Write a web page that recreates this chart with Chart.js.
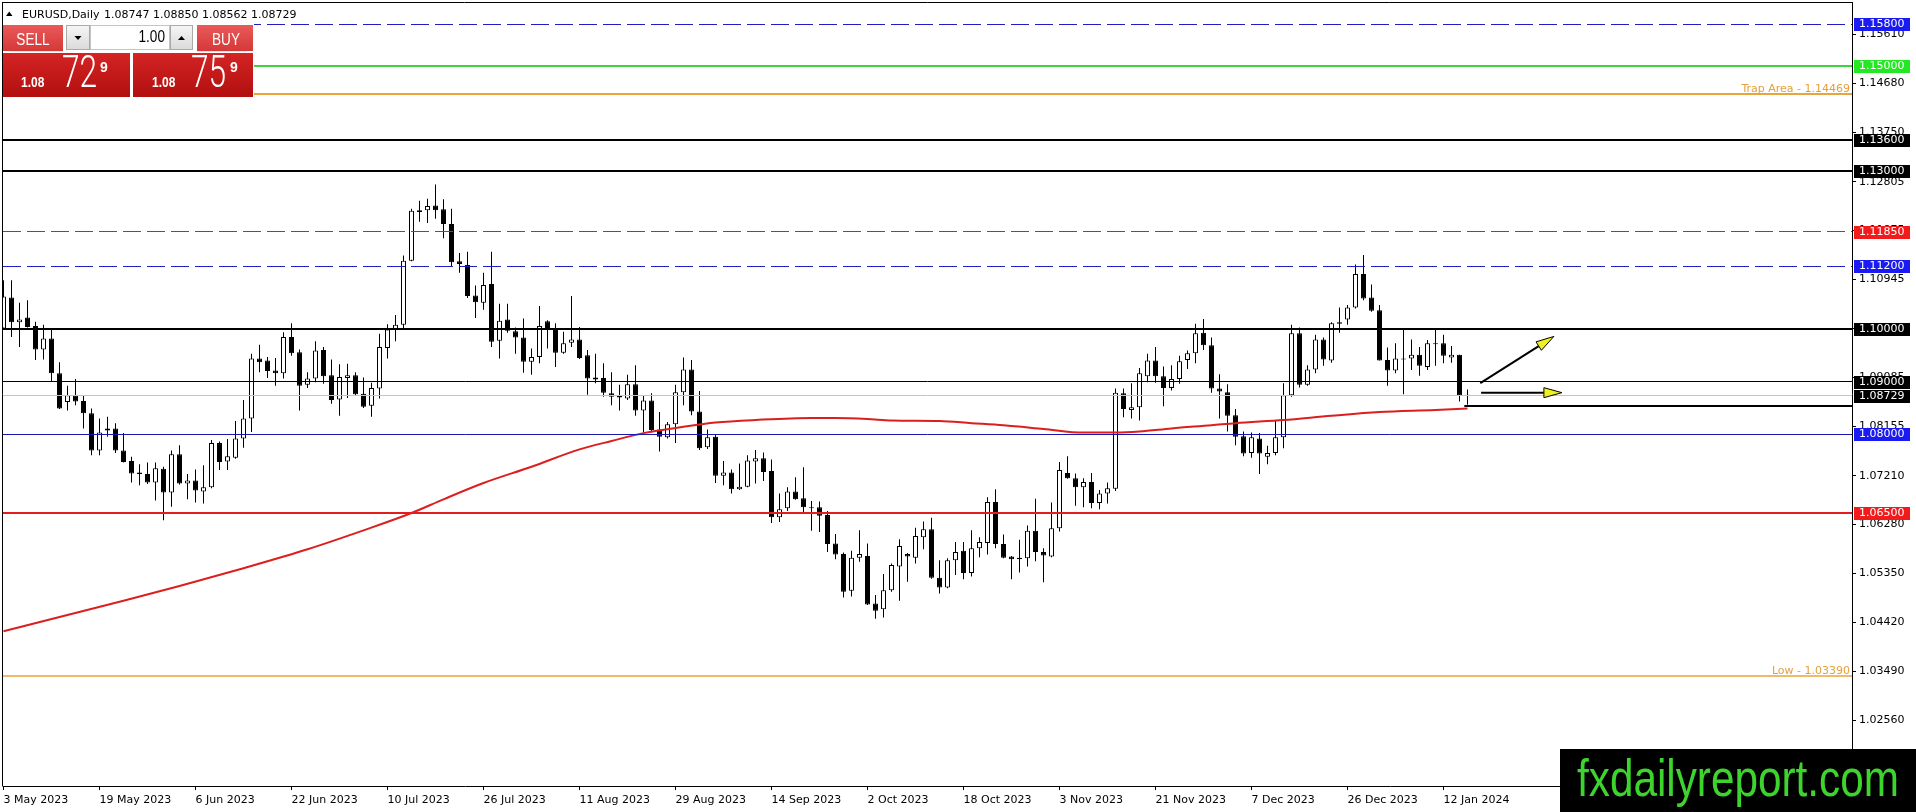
<!DOCTYPE html>
<html>
<head>
<meta charset="utf-8">
<script src="https://cdn.jsdelivr.net/npm/chart.js@4.4.1/dist/chart.umd.min.js"></script>
<style>
html,body{margin:0;padding:0;background:#fff;overflow:hidden;}
#wrap{position:relative;width:1916px;height:812px;}
canvas{position:absolute;left:0;top:0;}
</style>
</head>
<body>
<div id="wrap"><canvas id="c" width="1916" height="812"></canvas></div>
<script>
// ---------- DATA (EURUSD Daily, 3 May 2023 .. 17 Jan 2024) ----------
const dateLabels = ['3 May 2023','19 May 2023','6 Jun 2023','22 Jun 2023','10 Jul 2023','26 Jul 2023','11 Aug 2023','29 Aug 2023','14 Sep 2023','2 Oct 2023','18 Oct 2023','3 Nov 2023','21 Nov 2023','7 Dec 2023','26 Dec 2023','12 Jan 2024'];
const dateIndex = [0,12,24,36,48,60,72,84,96,108,120,132,144,156,168,180];

const opens = [
1.1001,1.1060,1.1013,1.1022,1.1006,1.0961,1.0982,1.0916,1.0861,1.0874,
1.0863,1.0840,1.0769,1.0807,1.0811,1.0769,1.0749,1.0727,1.0724,1.0708,
1.0734,1.0689,1.0762,1.0706,1.0712,1.0691,1.0699,1.0783,1.0748,1.0755,
1.0792,1.0830,1.0944,1.0940,1.0921,1.0916,1.0985,1.0956,1.0894,1.0906,
1.0960,1.0912,1.0866,1.0907,1.0912,1.0877,1.0854,1.0887,1.0964,1.1000,
1.1008,1.1130,1.1226,1.1226,1.1235,1.1228,1.1200,1.1129,1.1122,1.1064,
1.1050,1.1086,1.0978,1.1018,1.0996,1.0984,1.0938,1.0947,1.1015,1.1000,
1.0955,1.0974,1.0980,1.0950,1.0904,1.0907,1.0878,1.0873,1.0868,1.0895,
1.0845,1.0864,1.0809,1.0794,1.0819,1.0880,1.0923,1.0843,1.0775,1.0795,
1.0721,1.0727,1.0695,1.0700,1.0748,1.0754,1.0730,1.0642,1.0659,1.0691,
1.0678,1.0661,1.0661,1.0646,1.0592,1.0572,1.0502,1.0565,1.0568,1.0478,
1.0467,1.0503,1.0548,1.0572,1.0565,1.0604,1.0619,1.0527,1.0508,1.0560,
1.0578,1.0536,1.0583,1.0593,1.0671,1.0591,1.0567,1.0565,1.0564,1.0616,
1.0576,1.0567,1.0621,1.0726,1.0716,1.0699,1.0709,1.0669,1.0687,1.0696,
1.0878,1.0846,1.0851,1.0910,1.0940,1.0910,1.0888,1.0905,1.0941,1.0954,
1.0993,1.0969,1.0887,1.0880,1.0836,1.0796,1.0764,1.0792,1.0757,1.0764,
1.0794,1.0874,1.0992,1.0894,1.0923,1.0980,1.0940,1.1013,1.1018,1.1041,
1.1105,1.1060,1.1036,1.0941,1.0921,1.0944,1.0944,1.0951,1.0928,1.0973,
1.0973,1.0946,1.0951,1.08747];
const highs = [
1.1093,1.1093,1.1050,1.1055,1.1014,1.1008,1.0998,1.0937,1.0892,1.0905,
1.0873,1.0849,1.0830,1.0833,1.0821,1.0802,1.0757,1.0743,1.0746,1.0746,
1.0738,1.0769,1.0779,1.0724,1.0733,1.0741,1.0789,1.0786,1.0791,1.0825,
1.0865,1.0953,1.0970,1.0947,1.0945,1.0994,1.1011,1.0961,1.0918,1.0977,
1.0966,1.0942,1.0933,1.0934,1.0918,1.0908,1.0898,1.0991,1.1009,1.1027,
1.1140,1.1229,1.1244,1.1248,1.1275,1.1247,1.1229,1.1145,1.1147,1.1083,
1.1107,1.1147,1.1048,1.1048,1.1003,1.1020,1.0963,1.1044,1.1017,1.1011,
1.0995,1.1063,1.1004,1.0960,1.0953,1.0935,1.0918,1.0894,1.0913,1.0931,
1.0873,1.0878,1.0842,1.0823,1.0894,1.0946,1.0941,1.0882,1.0809,1.0800,
1.0749,1.0733,1.0744,1.0760,1.0770,1.0765,1.0752,1.0687,1.0699,1.0718,
1.0737,1.0673,1.0672,1.0654,1.0610,1.0575,1.0578,1.0617,1.0592,1.0494,
1.0534,1.0554,1.0600,1.0574,1.0622,1.0634,1.0641,1.0560,1.0564,1.0595,
1.0595,1.0617,1.0604,1.0680,1.0695,1.0609,1.0568,1.0599,1.0626,1.0677,
1.0583,1.0670,1.0747,1.0758,1.0725,1.0716,1.0726,1.0694,1.0708,1.0887,
1.0887,1.0897,1.0926,1.0953,1.0966,1.0929,1.0931,1.0949,1.0959,1.1010,
1.1019,1.0984,1.0914,1.0895,1.0848,1.0805,1.0803,1.0802,1.0778,1.0827,
1.0897,1.1008,1.1003,1.0931,1.0989,1.0984,1.1013,1.1041,1.1046,1.1123,
1.1141,1.1085,1.1046,1.0965,1.0973,1.0999,1.0980,1.0966,1.0979,1.0999,
1.0989,1.0968,1.0951,1.08850];
const lows = [
1.0998,1.0985,1.0966,1.1003,1.0941,1.0942,1.0901,1.0848,1.0845,1.0855,
1.0811,1.0760,1.0760,1.0795,1.0764,1.0746,1.0708,1.0703,1.0705,1.0674,
1.0636,1.0662,1.0704,1.0676,1.0670,1.0668,1.0697,1.0732,1.0732,1.0753,
1.0774,1.0804,1.0918,1.0907,1.0892,1.0906,1.0949,1.0845,1.0888,1.0899,
1.0896,1.0858,1.0835,1.0869,1.0874,1.0850,1.0833,1.0868,1.0944,1.0977,
1.1002,1.1129,1.1204,1.1202,1.1210,1.1173,1.1119,1.1107,1.1059,1.1021,
1.1037,1.0966,1.0944,1.0993,1.0953,1.0917,1.0913,1.0935,1.0963,1.0928,
1.0953,1.0966,1.0943,1.0875,1.0897,1.0871,1.0855,1.0845,1.0865,1.0835,
1.0803,1.0803,1.0767,1.0792,1.0783,1.0855,1.0836,1.0770,1.0772,1.0707,
1.0703,1.0687,1.0694,1.0699,1.0706,1.0711,1.0631,1.0633,1.0654,1.0675,
1.0652,1.0616,1.0614,1.0576,1.0562,1.0489,1.0491,1.0557,1.0475,1.0449,
1.0451,1.0500,1.0483,1.0519,1.0554,1.0581,1.0525,1.0497,1.0507,1.0532,
1.0524,1.0529,1.0566,1.0571,1.0583,1.0564,1.0524,1.0537,1.0548,1.0558,
1.0518,1.0566,1.0615,1.0715,1.0664,1.0661,1.0659,1.0657,1.0668,1.0692,
1.0832,1.0830,1.0826,1.0899,1.0898,1.0853,1.0883,1.0896,1.0924,1.0935,
1.0960,1.0879,1.0830,1.0805,1.0779,1.0758,1.0755,1.0724,1.0743,1.0760,
1.0773,1.0871,1.0889,1.0892,1.0916,1.0930,1.0936,1.0993,1.1008,1.1039,
1.1055,1.1033,1.0940,1.0892,1.0916,1.0876,1.0922,1.0911,1.0922,1.0930,
1.0935,1.0936,1.0862,1.08562];
const closes = [
1.1062,1.1013,1.1018,1.1004,1.0961,1.0982,1.0916,1.0849,1.0874,1.0862,
1.0840,1.0769,1.0803,1.0811,1.0769,1.0747,1.0725,1.0724,1.0708,1.0735,
1.0689,1.0762,1.0706,1.0712,1.0693,1.0699,1.0783,1.0747,1.0758,1.0792,
1.0830,1.0944,1.0937,1.0920,1.0916,1.0985,1.0954,1.0892,1.0906,1.0959,
1.0910,1.0865,1.0909,1.0912,1.0876,1.0852,1.0888,1.0966,1.0999,1.1008,
1.1130,1.1225,1.1223,1.1234,1.1226,1.1200,1.1127,1.1124,1.1063,1.1051,
1.1084,1.0976,1.1016,1.0997,1.0984,1.0938,1.0947,1.1006,1.1000,1.0955,
1.0973,1.0980,1.0945,1.0906,1.0908,1.0879,1.0871,1.0870,1.0895,1.0845,
1.0864,1.0808,1.0795,1.0819,1.0880,1.0923,1.0843,1.0773,1.0794,1.0721,
1.0727,1.0695,1.0700,1.0750,1.0754,1.0728,1.0642,1.0657,1.0691,1.0676,
1.0661,1.0659,1.0645,1.0591,1.0571,1.0500,1.0565,1.0572,1.0476,1.0464,
1.0503,1.0551,1.0587,1.0567,1.0606,1.0619,1.0527,1.0508,1.0560,1.0576,
1.0536,1.0583,1.0595,1.0671,1.0591,1.0565,1.0562,1.0562,1.0616,1.0576,
1.0569,1.0621,1.0732,1.0716,1.0699,1.0709,1.0669,1.0687,1.0697,1.0879,
1.0848,1.0851,1.0916,1.0940,1.0910,1.0888,1.0905,1.0939,1.0954,1.0992,
1.0969,1.0887,1.0881,1.0835,1.0795,1.0763,1.0794,1.0763,1.0764,1.0794,
1.0874,1.0992,1.0894,1.0923,1.0980,1.0942,1.1011,1.1010,1.1041,1.1105,
1.1058,1.1035,1.0940,1.0921,1.0944,1.0942,1.0951,1.0930,1.0973,1.0971,
1.0949,1.0951,1.0873,1.08729];

// moving average, read at sampled bars
const maIndex  = [0,7,15,22,30,38,45,51,55,60,66,72,76,80,85,89,94,101,104,108,111,117,121,125,130,135,139,142,146,151,154,160,166,172,179,183];
const maValues = [1.0425,1.0452,1.0483,1.0511,1.0545,1.0581,1.0617,1.0650,1.0676,1.0707,1.0738,1.0771,1.0787,1.0802,1.0814,1.0822,1.0827,1.0831,1.0831,1.0829,1.0826,1.0825,1.0821,1.0817,1.0810,1.0803,1.0803,1.0805,1.0811,1.0817,1.0821,1.0827,1.0835,1.0842,1.0846,1.0849];

const yTickValues = [1.15610,1.14680,1.13750,1.12805,1.11875,1.10945,1.10015,1.09085,1.08155,1.07210,1.06280,1.05350,1.04420,1.03490,1.02560];

// horizontal levels
const levelValues = [1.15800,1.15000,1.14469,1.13600,1.13000,1.11850,1.11200,1.10000,1.09000,1.08729,1.08000,1.06500,1.03390];
const levelTexts  = [null,null,'Trap Area - 1.14469',null,null,null,null,null,null,null,null,null,'Low - 1.03390'];
const shortLevelStart = 182.6, shortLevelValue = 1.0854;

// arrows (bar index, price)
const arrowFromX = [184.6, 184.7], arrowFromY = [1.0897, 1.0879];
const arrowToX   = [193.8, 194.8], arrowToY   = [1.0986, 1.0879];

const titleSymbol = 'EURUSD,Daily';
const titleOHLC = '1.08747 1.08850 1.08562 1.08729';

// ---------- STYLES ----------
const levelStyles = [
  {c:'#1e1ec4', w:1, d:[18,6], box:'#1a1af2'},
  {c:'#3fd43f', w:2, box:'#24e824'},
  {c:'#e9a43c', w:2},
  {c:'#000000', w:2, box:'#000000'},
  {c:'#000000', w:2, box:'#000000'},
  {c:'#e01c1c', w:1, d:[18,6], box:'#f21a1a'},
  {c:'#1e1ec4', w:1, d:[18,6], box:'#1a1af2'},
  {c:'#000000', w:2, box:'#000000'},
  {c:'#000000', w:1, box:'#000000'},
  {c:'#c4c4c4', w:1, box:'#000000'},
  {c:'#1818b0', w:1, box:'#1a1af2'},
  {c:'#e41c1c', w:2, box:'#f21a1a'},
  {c:'#e9a43c', w:1.5}
];
const FONT = '11px "DejaVu Sans", sans-serif';

function crisp(y, w){ return (Math.round(w) % 2 === 1) ? Math.floor(y) + 0.5 : Math.round(y); }

function txt(ctx, s, x, y, font, color, align, sx){
  ctx.save();
  ctx.font = font; ctx.fillStyle = color; ctx.textAlign = align || 'left'; ctx.textBaseline = 'alphabetic';
  ctx.translate(x, y); ctx.scale(sx || 1, 1); ctx.fillText(s, 0, 0);
  ctx.restore();
}
function rectGrad(ctx, x, y, w, h, c1, c2){
  const g = ctx.createLinearGradient(0, y, 0, y + h);
  g.addColorStop(0, c1); g.addColorStop(1, c2);
  ctx.fillStyle = g; ctx.fillRect(x, y, w, h);
}
function tri(ctx, cx, cy, up){
  ctx.beginPath();
  if (up){ ctx.moveTo(cx - 3.5, cy + 2); ctx.lineTo(cx + 3.5, cy + 2); ctx.lineTo(cx, cy - 2); }
  else   { ctx.moveTo(cx - 3.5, cy - 2); ctx.lineTo(cx + 3.5, cy - 2); ctx.lineTo(cx, cy + 2); }
  ctx.closePath(); ctx.fillStyle = '#000'; ctx.fill();
}

const levelsPlugin = {
  id: 'levels',
  afterDatasetsDraw(chart){
    const {ctx, chartArea: a, scales: {x, y}} = chart;
    ctx.save();
    ctx.beginPath(); ctx.rect(a.left, a.top, a.right - a.left, a.bottom - a.top); ctx.clip();
    levelValues.forEach((v, i) => {
      const st = levelStyles[i];
      const py = crisp(y.getPixelForValue(v), st.w);
      ctx.beginPath();
      ctx.setLineDash(st.d || []);
      ctx.strokeStyle = st.c; ctx.lineWidth = st.w;
      ctx.moveTo(a.left, py); ctx.lineTo(a.right, py); ctx.stroke();
    });
    ctx.setLineDash([]);
    const sy = crisp(y.getPixelForValue(shortLevelValue), 2);
    ctx.beginPath(); ctx.strokeStyle = '#000'; ctx.lineWidth = 2;
    ctx.moveTo(x.getPixelForValue(shortLevelStart), sy); ctx.lineTo(a.right, sy); ctx.stroke();
    levelValues.forEach((v, i) => {
      if (!levelTexts[i]) return;
      txt(ctx, levelTexts[i], a.right - 2, y.getPixelForValue(v) - 2.5, FONT, '#e5a03a', 'right');
    });
    ctx.restore();
  },
  afterDraw(chart){
    const {ctx, chartArea: a, scales: {x, y}} = chart;
    ctx.save();
    // arrows
    for (let i = 0; i < arrowFromX.length; i++){
      const x1 = x.getPixelForValue(arrowFromX[i]), y1 = y.getPixelForValue(arrowFromY[i]);
      const x2 = x.getPixelForValue(arrowToX[i]),   y2 = y.getPixelForValue(arrowToY[i]);
      const ang = Math.atan2(y2 - y1, x2 - x1), L = 18, W = 5;
      const bx = x2 - L * Math.cos(ang), by = y2 - L * Math.sin(ang);
      ctx.beginPath(); ctx.strokeStyle = '#000'; ctx.lineWidth = 2;
      ctx.moveTo(x1, y1); ctx.lineTo(bx, by); ctx.stroke();
      ctx.beginPath();
      ctx.moveTo(x2, y2);
      ctx.lineTo(bx + W * Math.sin(ang), by - W * Math.cos(ang));
      ctx.lineTo(bx - W * Math.sin(ang), by + W * Math.cos(ang));
      ctx.closePath();
      ctx.fillStyle = '#f0f01e'; ctx.fill();
      ctx.lineWidth = 1; ctx.strokeStyle = '#000'; ctx.stroke();
    }
    // price boxes on right axis
    levelValues.forEach((v, i) => {
      const st = levelStyles[i];
      if (!st.box) return;
      const py = Math.round(y.getPixelForValue(v));
      ctx.fillStyle = st.box; ctx.fillRect(a.right + 2, py - 6, 56, 13);
      ctx.font = FONT; ctx.fillStyle = '#fff'; ctx.textAlign = 'left'; ctx.textBaseline = 'middle';
      ctx.fillText(v.toFixed(5), a.right + 7, py + 0.5);
    });
    // frame
    ctx.beginPath(); ctx.strokeStyle = '#000'; ctx.lineWidth = 1;
    ctx.moveTo(2.5, 2); ctx.lineTo(2.5, a.bottom + 0.5);
    ctx.moveTo(2, 2.5); ctx.lineTo(a.right + 0.5, 2.5); ctx.stroke();
    // title
    ctx.beginPath(); ctx.moveTo(6, 16); ctx.lineTo(12.5, 16); ctx.lineTo(9.25, 11.5); ctx.closePath();
    ctx.fillStyle = '#000'; ctx.fill();
    txt(ctx, titleSymbol, 22, 18, FONT, '#000');
    txt(ctx, titleOHLC, 104, 18, FONT, '#000');
    // one-click trading panel
    ctx.fillStyle = '#fff'; ctx.fillRect(3, 24, 251, 74);
    rectGrad(ctx, 3, 25, 60, 26, '#e85a5a', '#d63838');
    ctx.fillStyle = 'rgba(255,215,215,0.9)'; ctx.fillRect(9, 51, 54, 1);
    rectGrad(ctx, 197, 25, 56, 26, '#e85a5a', '#d63838');
    ctx.fillStyle = 'rgba(255,215,215,0.9)'; ctx.fillRect(197, 51, 50, 1);
    rectGrad(ctx, 66, 25, 24, 25, '#f6f6f6', '#dadada');
    rectGrad(ctx, 170, 25, 23, 25, '#f6f6f6', '#dadada');
    ctx.strokeStyle = '#a9a9a9'; ctx.lineWidth = 1;
    ctx.strokeRect(66.5, 25.5, 23, 24); ctx.strokeRect(170.5, 25.5, 22, 24);
    ctx.fillStyle = '#fff'; ctx.fillRect(90, 25, 80, 25);
    ctx.strokeStyle = '#c4c4c4'; ctx.strokeRect(90.5, 25.5, 79, 24);
    tri(ctx, 78, 38, false); tri(ctx, 181.5, 38, true);
    txt(ctx, 'SELL', 33, 45, '17px "Liberation Sans", Arial, sans-serif', '#fff', 'center', 0.8);
    txt(ctx, 'BUY', 226, 45, '17px "Liberation Sans", Arial, sans-serif', '#fff', 'center', 0.8);
    txt(ctx, '1.00', 165, 42, '16px "Liberation Sans", Arial, sans-serif', '#000', 'right', 0.85);
    rectGrad(ctx, 3, 53, 127, 44, '#d42424', '#b20f0f');
    rectGrad(ctx, 133, 53, 120, 44, '#d42424', '#b20f0f');
    const small = 'bold 15px "Liberation Sans", Arial, sans-serif';
    const big = '300 44px Roboto, "Liberation Sans", sans-serif';
    const sup = 'bold 14px "Liberation Sans", Arial, sans-serif';
    txt(ctx, '1.08', 21, 87, small, '#fff', 'left', 0.8);
    txt(ctx, '72', 62, 87, big, '#fff', 'left', 0.72);
    txt(ctx, '9', 100, 72, sup, '#fff', 'left');
    txt(ctx, '1.08', 152, 87, small, '#fff', 'left', 0.8);
    txt(ctx, '75', 191, 87, big, '#fff', 'left', 0.72);
    txt(ctx, '9', 230, 72, sup, '#fff', 'left');
    // logo
    ctx.fillStyle = '#000'; ctx.fillRect(1560, 749, 356, 63);
    txt(ctx, 'fxdailyreport.com', 1577, 796, '52px "Liberation Sans", Arial, sans-serif', '#3ed42e', 'left', 0.813);
    ctx.restore();
  }
};

const chart = new Chart(document.getElementById('c'), {
  type: 'bar',
  data: {
    datasets: [
      { type: 'line', data: maIndex.map((xv, i) => ({x: xv, y: maValues[i]})),
        borderColor: '#dc1e1e', borderWidth: 2, pointRadius: 0, cubicInterpolationMode: 'monotone', order: 0 },
      { type: 'bar', data: opens.map((o, i) => ({x: i, y: [o, closes[i]]})),
        backgroundColor: opens.map((o, i) => closes[i] < o ? '#000000' : '#ffffff'),
        borderColor: '#000', borderWidth: 1, borderSkipped: false, barThickness: 5, grouped: false,
        minBarLength: 1, inflateAmount: 0, order: 1 },
      { type: 'bar', data: lows.map((l, i) => ({x: i, y: [l, highs[i]]})),
        backgroundColor: '#000', borderWidth: 0, barThickness: 1, grouped: false, inflateAmount: 0, order: 2 }
    ]
  },
  options: {
    responsive: false, animation: false, devicePixelRatio: 1, events: [],
    layout: { padding: { left: 3, top: 2, right: 0, bottom: 0 } },
    plugins: { legend: { display: false }, tooltip: { enabled: false } },
    scales: {
      x: {
        type: 'linear', position: 'bottom', min: -0.0625, max: 231.0625, offset: false,
        grid: { display: true, drawOnChartArea: false, drawTicks: true, tickLength: 4, color: '#000', offset: false },
        border: { display: true, color: '#000', width: 1 },
        ticks: { autoSkip: false, maxRotation: 0, minRotation: 0, align: 'start', padding: 4, color: '#000',
                 font: { family: '"DejaVu Sans", sans-serif', size: 11 }, callback: (v, i) => dateLabels[i] },
        afterBuildTicks: s => { s.ticks = dateIndex.map(v => ({value: v})); },
        afterFit: s => { s.height = 26; s.paddingLeft = 0; s.paddingRight = 0; }
      },
      y: {
        type: 'linear', position: 'right', min: 1.01305, max: 1.16224,
        grid: { display: true, drawOnChartArea: false, drawTicks: true, tickLength: 4, color: '#000' },
        border: { display: true, color: '#000', width: 1 },
        ticks: { autoSkip: false, padding: 3, color: '#000',
                 font: { family: '"DejaVu Sans", sans-serif', size: 11 }, callback: v => Number(v).toFixed(5) },
        afterBuildTicks: s => { s.ticks = yTickValues.map(v => ({value: v})); },
        afterFit: s => { s.width = 64; s.paddingTop = 0; s.paddingBottom = 0; }
      }
    }
  },
  plugins: [levelsPlugin]
});
</script>
</body>
</html>
